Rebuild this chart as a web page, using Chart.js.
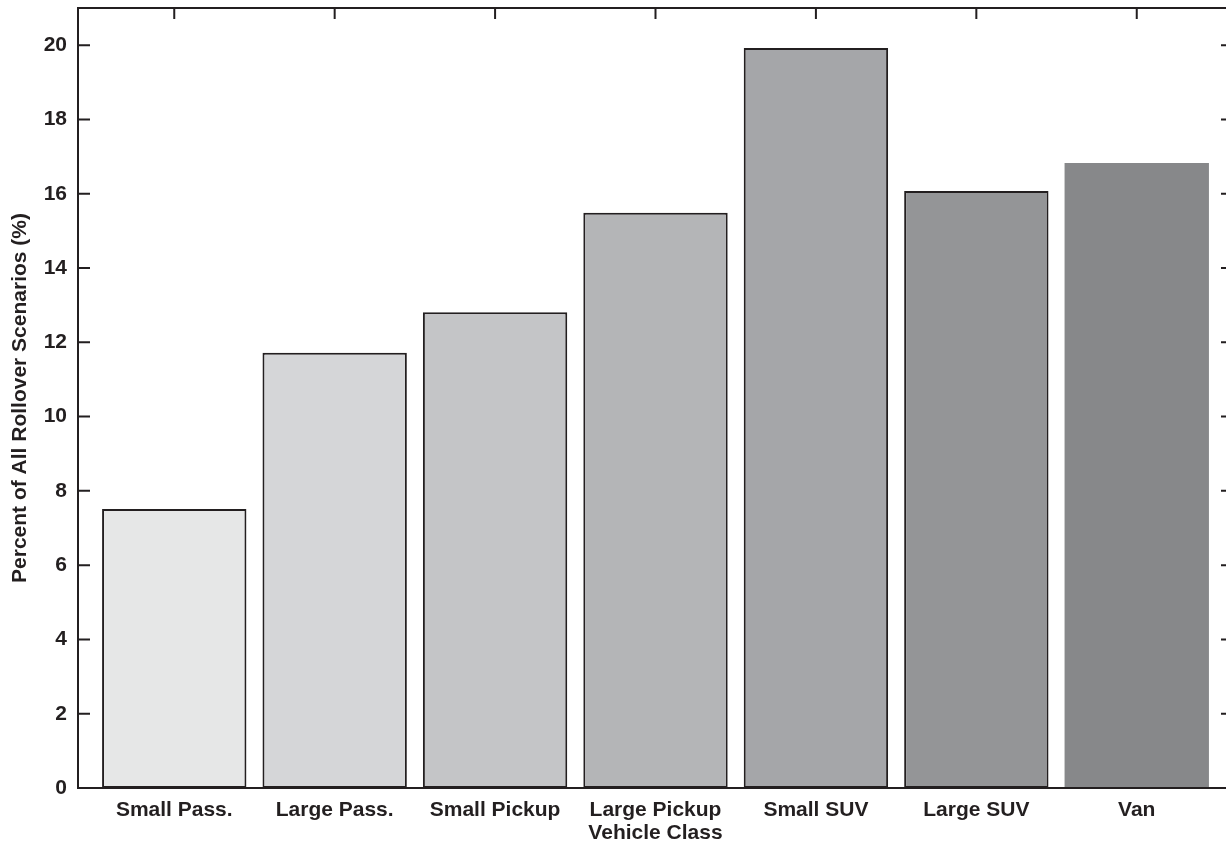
<!DOCTYPE html>
<html>
<head>
<meta charset="utf-8">
<script src="https://cdn.jsdelivr.net/npm/chart.js@4/dist/chart.umd.min.js"></script>
<style>
html,body{margin:0;padding:0;background:#fff;overflow:hidden}
#box{width:1240px;height:846px;position:relative}
</style>
</head>
<body>
<div id="box"><canvas id="rollChart"></canvas></div>
<script>

// values
let vehicleClasses=["Small Pass.","Large Pass.","Small Pickup","Large Pickup","Small SUV","Large SUV","Van"]
let rolloverPct=[7.51,11.72,12.81,15.49,19.92,16.07,16.83]
let barColors=["#e6e7e7","#d5d6d8","#c4c5c7","#b4b5b7","#a5a6a9","#949597","#87888a"]
let yTickValues=[0,2,4,6,8,10,12,14,16,18,20]

let ink="#231f20"
let font={family:"'Liberation Sans', Arial, Helvetica, sans-serif",size:21,weight:"bold"}


// frame + inward tick marks, like the original plot
let framePlugin={
id:"frame",
afterDatasetsDraw(chart){

let ctx=chart.ctx
let a=chart.chartArea
let xs=chart.scales.x
let ys=chart.scales.y

ctx.save()
ctx.strokeStyle=ink
ctx.lineWidth=2

ctx.beginPath()
ctx.rect(a.left,a.top,a.right-a.left,a.bottom-a.top)
ctx.stroke()

ctx.beginPath()

vehicleClasses.forEach((c,i)=>{
let px=xs.getPixelForValue(i+1)
ctx.moveTo(px,a.top)
ctx.lineTo(px,a.top+11)
})

yTickValues.forEach(v=>{
let py=ys.getPixelForValue(v)
ctx.moveTo(a.left,py)
ctx.lineTo(a.left+12,py)
ctx.moveTo(a.right,py)
ctx.lineTo(a.right-12,py)
})

ctx.stroke()
ctx.restore()

}
}


new Chart(
document.getElementById("rollChart"),
{
type:"bar",
data:{
datasets:[{
data:rolloverPct.map((v,i)=>({x:i+1,y:v})),
backgroundColor:barColors,
borderColor:ink,
borderWidth:[2,2,2,2,2,2,0],
borderSkipped:false,
barPercentage:0.9,
categoryPercentage:1
}]
},
options:{
responsive:true,
maintainAspectRatio:false,
animation:false,
layout:{padding:{top:8,right:7,left:0,bottom:0}},
plugins:{
legend:{display:false},
tooltip:{enabled:false}
},
scales:{
x:{
type:"linear",
offset:false,
min:0.4,
max:7.6,
grid:{display:false,drawTicks:false,offset:false},
border:{display:false},
afterBuildTicks(s){
s.ticks=vehicleClasses.map((c,i)=>({value:i+1}))
},
afterFit(s){
s.height=58
s.paddingLeft=0
s.paddingRight=0
},
ticks:{
autoSkip:false,
maxRotation:0,
padding:10,
color:ink,
font:font,
callback:v=>vehicleClasses[v-1]
},
title:{
display:true,
text:"Vehicle Class",
color:ink,
font:font,
padding:{top:0,bottom:0}
}
},
y:{
min:0,
max:21,
grid:{display:false,drawTicks:false},
border:{display:false},
afterBuildTicks(s){
s.ticks=yTickValues.map(v=>({value:v}))
},
afterFit(s){
s.width=78
s.paddingTop=0
s.paddingBottom=0
},
ticks:{
padding:11,
color:ink,
font:font
},
title:{
display:true,
text:"Percent of All Rollover Scenarios (%)",
color:ink,
font:font,
padding:{top:8,bottom:0}
}
}
}
},
plugins:[framePlugin]
})

</script>
</body>
</html>
